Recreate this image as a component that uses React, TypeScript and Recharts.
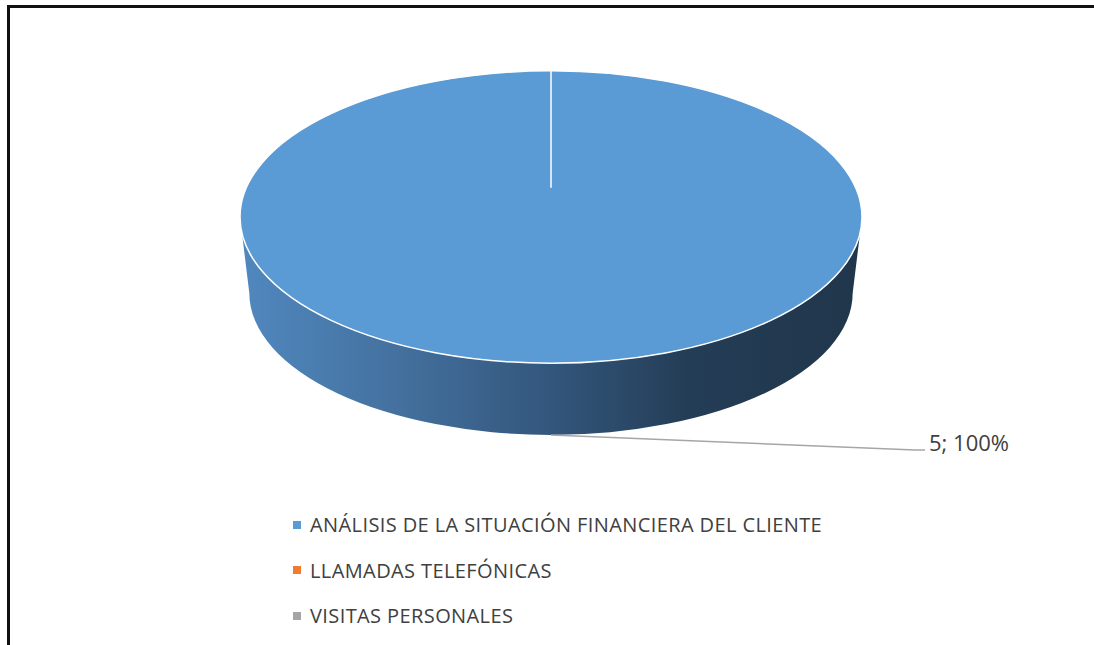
import { PieChart, Pie, Legend, Cell } from 'recharts';

const CATEGORIES = [
  'ANÁLISIS DE LA SITUACIÓN FINANCIERA DEL CLIENTE',
  'LLAMADAS TELEFÓNICAS',
  'VISITAS PERSONALES',
];
const VALUES = [5, 0, 0];
const COLORS = ['#5b9bd5', '#ed7d31', '#a5a5a5'];

const data = CATEGORIES.map((name, i) => ({ name, value: VALUES[i] }));

// fake 3d: tilt of the top face, depth of the side, bottom rim a bit smaller
const TILT = 0.47;
const DEPTH = 0.245;
const BOTTOM = 0.97;
const FONT = '"Open Sans", sans-serif';
const TEXT = '#404040';

const RAD = Math.PI / 180;

const Sector3D = (props: any) => {
  const { cx, cy, outerRadius: r, startAngle, endAngle, fill } = props;
  if (Math.abs(endAngle - startAngle) < 0.01) return null;
  const ry = r * TILT;
  const rx2 = r * BOTTOM;
  const ry2 = ry * BOTTOM;
  const dy = r * DEPTH;
  const full = Math.abs(endAngle - startAngle) >= 359.99;

  const side = `M ${cx - r} ${cy} L ${cx - rx2} ${cy + dy} A ${rx2} ${ry2} 0 0 0 ${cx + rx2} ${cy + dy} L ${cx + r} ${cy} A ${r} ${ry} 0 0 1 ${cx - r} ${cy} Z`;

  const px = (a: number) => cx + r * Math.cos(-a * RAD);
  const py = (a: number) => cy + ry * Math.sin(-a * RAD);
  let top: string;
  if (full) {
    top = `M ${cx - r} ${cy} A ${r} ${ry} 0 1 0 ${cx + r} ${cy} A ${r} ${ry} 0 1 0 ${cx - r} ${cy} Z`;
  } else {
    const large = Math.abs(endAngle - startAngle) > 180 ? 1 : 0;
    const sweep = endAngle < startAngle ? 1 : 0;
    top = `M ${cx} ${cy} L ${px(startAngle)} ${py(startAngle)} A ${r} ${ry} 0 ${large} ${sweep} ${px(endAngle)} ${py(endAngle)} Z`;
  }
  // perspective centre of the top face sits a little above the ellipse centre
  const pcy = cy - ry * 0.2;

  return (
    <g>
      <defs>
        <linearGradient id="sideGrad" x1="0" y1="0" x2="1" y2="0">
          <stop offset="0%" stopColor="#5088bf" />
          <stop offset="25%" stopColor="#44719f" />
          <stop offset="50%" stopColor="#33567c" />
          <stop offset="72%" stopColor="#243d56" />
          <stop offset="100%" stopColor="#20364b" />
        </linearGradient>
      </defs>
      {full && <path d={side} fill="url(#sideGrad)" stroke="none" />}
      <path d={top} fill={fill} stroke="#ffffff" strokeWidth={1.5} />
      {full && (
        <line
          x1={px(startAngle)}
          y1={py(startAngle)}
          x2={cx}
          y2={pcy}
          stroke="#ffffff"
          strokeWidth={1.5}
        />
      )}
    </g>
  );
};

const renderLabel = (props: any) => {
  const { cx, cy, midAngle, outerRadius: r, value, percent } = props;
  if (!value) return null;
  const ry2 = r * TILT * BOTTOM;
  const rx2 = r * BOTTOM;
  const dy = r * DEPTH;
  const sx = cx + rx2 * Math.cos(-midAngle * RAD);
  const sy = cy + dy + ry2 * Math.sin(-midAngle * RAD);
  const ex = cx + r + 53;
  const ey = sy + 15;
  return (
    <g>
      <polyline
        points={`${sx},${sy} ${ex},${ey} ${ex + 10},${ey}`}
        fill="none"
        stroke="#a6a6a6"
        strokeWidth={1.5}
      />
      <text x={ex + 14} y={ey + 1} fill={TEXT} fontSize={22} fontFamily={FONT}>
        {`${value}; ${Math.round(percent * 100)}%`}
      </text>
    </g>
  );
};

const renderLegend = (props: any) => {
  const payload = props.payload || [];
  return (
    <div>
      {payload.map((entry: any, i: number) => (
        <div
          key={`legend-${i}`}
          style={{ display: 'flex', alignItems: 'center', height: 45.5 }}
        >
          <span
            style={{
              display: 'inline-block',
              width: 8,
              height: 8,
              background: COLORS[i],
              marginRight: 9,
            }}
          />
          <span style={{ color: TEXT, fontSize: 20, letterSpacing: 0.4, fontFamily: FONT }}>
            {entry.value}
          </span>
        </div>
      ))}
    </div>
  );
};

export default function App() {
  return (
    <div
      style={{
        position: 'absolute',
        left: 0,
        top: 0,
        width: 1094,
        height: 645,
        overflow: 'hidden',
        background: '#fff',
      }}
    >
      {/* chart frame: only the top and left edges are in view */}
      <div style={{ position: 'absolute', left: 7, top: 5, width: 1087, height: 3, background: '#111' }} />
      <div style={{ position: 'absolute', left: 7, top: 5, width: 3, height: 640, background: '#111' }} />
      <PieChart
        width={1094}
        height={645}
        margin={{ top: 0, right: 0, bottom: 0, left: 0 }}
        style={{ position: 'absolute', left: 0, top: 0 }}
      >
        <Pie
          data={data}
          dataKey="value"
          nameKey="name"
          cx={551}
          cy={217}
          outerRadius={311}
          startAngle={90}
          endAngle={-270}
          stroke="none"
          shape={Sector3D}
          label={renderLabel}
          labelLine={false}
          isAnimationActive={false}
        >
          {data.map((_, i) => (
            <Cell key={`cell-${i}`} fill={COLORS[i]} />
          ))}
        </Pie>
        <Legend
          layout="vertical"
          content={renderLegend}
          wrapperStyle={{ left: 293, top: 502, width: 750 }}
        />
      </PieChart>
    </div>
  );
}
